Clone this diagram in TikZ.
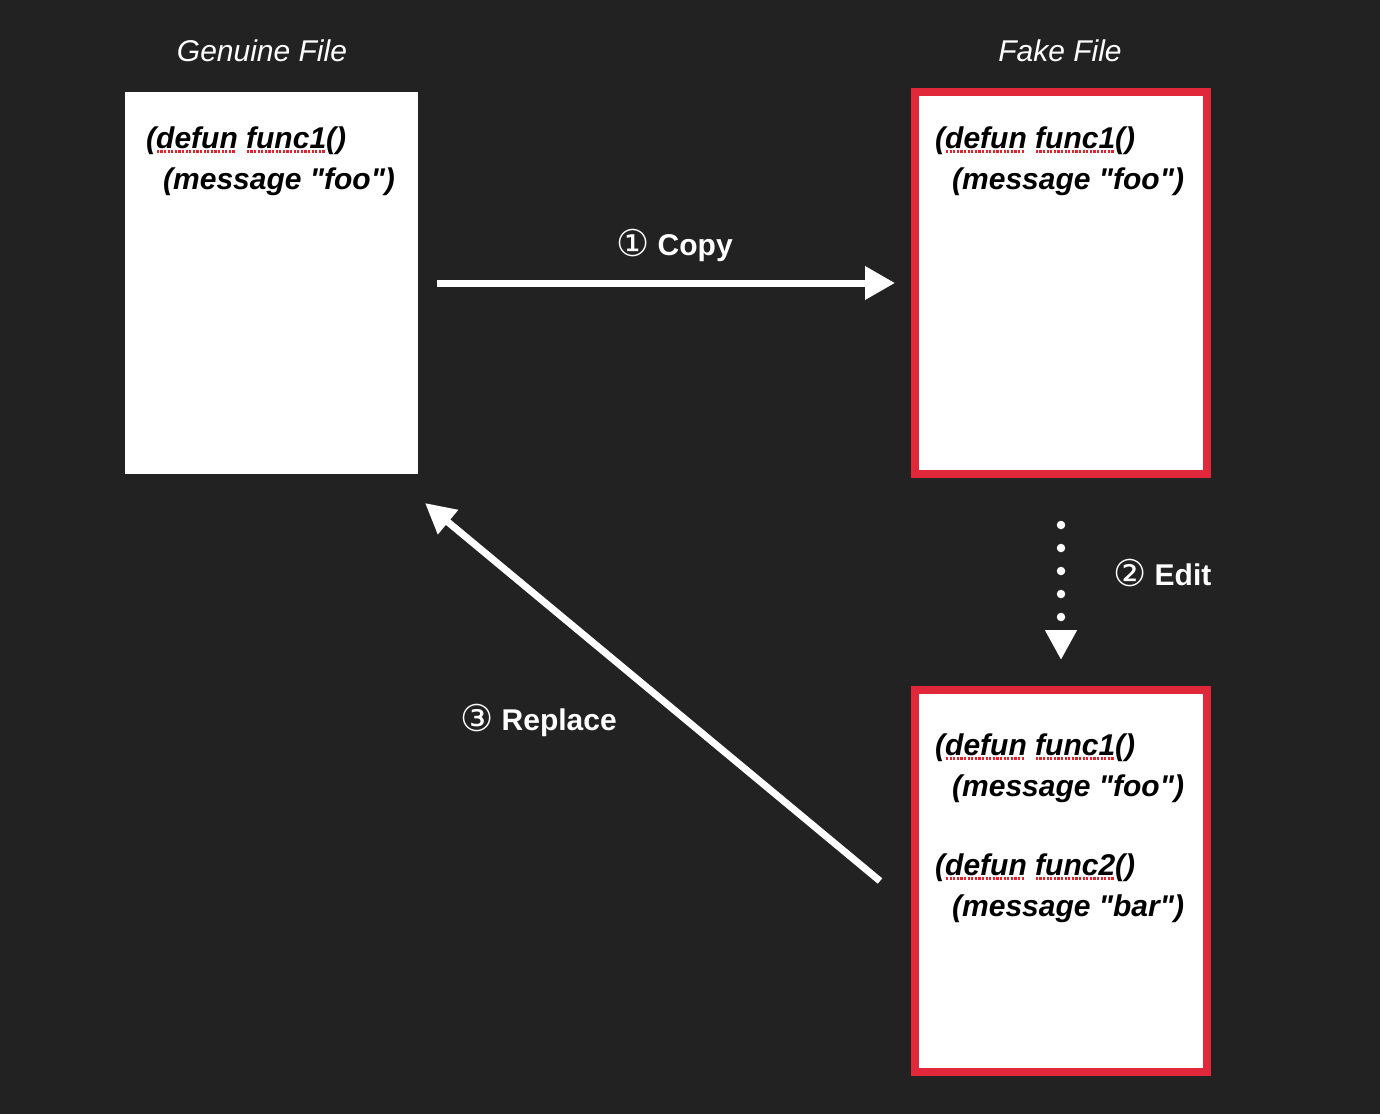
\documentclass[tikz,border=0pt]{standalone}
\usepackage{fontspec}
\setmainfont{Liberation Sans}
\newfontfamily\codef{Liberation Sans}
\newfontfamily\symf{DejaVu Sans}
\usetikzlibrary{arrows.meta}
\definecolor{bg}{HTML}{222222}
\definecolor{fred}{HTML}{E0283A}
\definecolor{sqred}{HTML}{E8202A}
\newsavebox\sqbox
\newcommand\squig[1]{\sbox\sqbox{#1}\rlap{\raisebox{-4.5pt}{\color{sqred}\leaders\hbox to 3.6pt{\hss\rule{2.2pt}{2.2pt}\hss}\hskip\wd\sqbox}}\usebox\sqbox}
\newcommand\circnum[1]{{\mdseries\fontsize{37}{37}\symf\raisebox{-1.5pt}{#1}}}
\tikzset{
  filebox/.style={fill=white, inner sep=0pt, minimum width=293pt, minimum height=382pt},
  fakebox/.style={fill=white, draw=fred, line width=8pt, inner sep=0pt, minimum width=292pt, minimum height=382pt},
  title/.style={text=white, font=\fontsize{30}{30}\selectfont\itshape, anchor=base, inner sep=0pt},
  code/.style={text=black, font=\codef\fontsize{30}{30}\selectfont\bfseries\itshape, anchor=base west, inner sep=0pt},
  lbl/.style={text=white, font=\fontsize{30}{30}\selectfont\bfseries, anchor=base west, inner sep=0pt},
  conn/.style={draw=white, line width=7pt, -{Triangle[length=30pt,width=32pt]}},
  dotconn/.style={draw=white, line width=8.5pt, line cap=round, dash pattern=on 0pt off 23pt, -{Triangle[length=30pt,width=30pt]}}
}
\begin{document}
\begin{tikzpicture}[x=1pt,y=-1pt]
\fill[bg] (0,0) rectangle (1380,1114);
\useasboundingbox (0,0) rectangle (1380,1114);

\node[title] (t1) at (262,61) {Genuine File};
\node[title] (t2) at (1060,61) {Fake File};

\node[filebox] (gen) at (271.5,283) {};
\node[fakebox] (fake) at (1061,283) {};
\node[fakebox] (edit) at (1061,881) {};

\node[code] (g1) at (146,148) {(\squig{defun} \squig{func1}()};
\node[code] (g2) at (163,189) {(message "foo")};
\node[code] (f1) at (935,148) {(\squig{defun} \squig{func1}()};
\node[code] (f2) at (952,189) {(message "foo")};
\node[code] (e1) at (935,755) {(\squig{defun} \squig{func1}()};
\node[code] (e2) at (952,796) {(message "foo")};
\node[code] (e3) at (935,875) {(\squig{defun} \squig{func2}()};
\node[code] (e4) at (952,916) {(message "bar")};

\draw[conn, shorten <=19pt, shorten >=16pt] (gen.east) -- (fake.west);
\node[lbl] (l1) at (616,255) {\circnum{①} Copy};

\draw[dotconn, shorten <=47pt, shorten >=26pt] (fake.south) -- (edit.north);
\node[lbl] (l2) at (1113,585) {\circnum{②} Edit};

\coordinate (rs) at (880,881);
\coordinate (re) at (425,503);
\draw[conn, -{Triangle[length=30pt,width=30pt]}] (rs) -- (re);
\node[lbl] (l3) at (460,730) {\circnum{③} Replace};
\end{tikzpicture}
\end{document}
